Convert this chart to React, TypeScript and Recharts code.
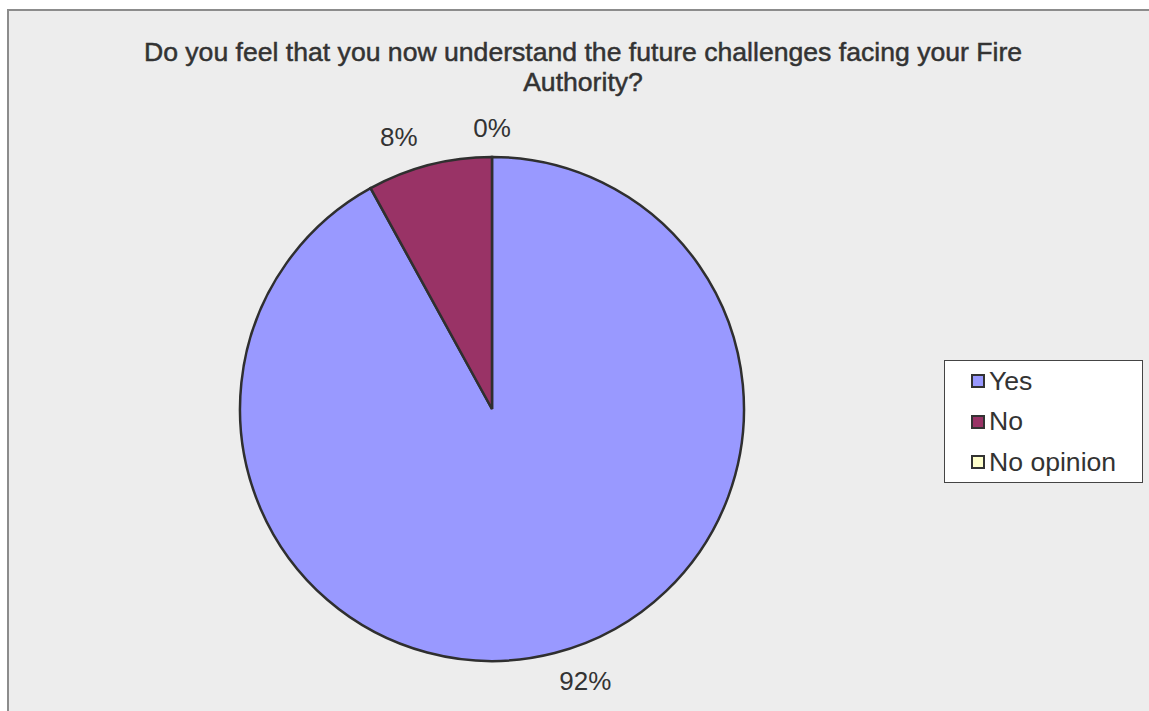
import React from 'react';
import {Cell, Legend, Pie, PieChart} from 'recharts';

const categories = ['Yes', 'No', 'No opinion'];
const shares = [92, 8, 0];
const colors = ['#9999ff', '#993366', '#ffffcc'];

const titleLines = ['Do you feel that you now understand the future challenges facing your Fire', 'Authority?'];

const data = categories.map((name, i) => ({name, value: shares[i], fill: colors[i]}));

const RAD = Math.PI / 180;
const FONT = '"Liberation Sans", Arial, sans-serif';

const renderLabel = (props: any) => {
  const {cx, cy, midAngle, outerRadius, payload} = props;
  // Excel nudges the outside labels a little counterclockwise
  const angle = payload.value > 0 ? midAngle + 4.5 : midAngle;
  const r = outerRadius + (payload.value > 0 ? 36 : 29);
  const x = cx + r * Math.cos(-angle * RAD);
  const y = cy + r * Math.sin(-angle * RAD);
  return (
    <text x={x} y={y} fill="#333" fontFamily={FONT} fontSize={26}
          textAnchor="middle" dominantBaseline="central">
      {`${payload.value}%`}
    </text>
  );
};

const LegendBox = (props: any) => {
  const items = [...(props.payload || [])].sort(
    (a: any, b: any) => categories.indexOf(a.value) - categories.indexOf(b.value));
  return (
    <div style={{
      width: 197, height: 121, background: '#fff', border: '1px solid #444',
      fontFamily: FONT, fontSize: 26.6, color: '#333', boxSizing: 'content-box',
    }}>
      {items.map((entry: any, i: number) => (
        <div key={i} style={{display: 'flex', alignItems: 'center', height: 40.5, paddingLeft: 26}}>
          <span style={{
            display: 'inline-block', width: 10, height: 10, background: entry.color,
            border: '2px solid #333', marginRight: 4,
          }}/>
          <span>{entry.value}</span>
        </div>
      ))}
    </div>
  );
};

const App = () => {
  return (
    <div style={{position: 'absolute', left: 0, top: 0, width: 1149, height: 711, overflow: 'hidden'}}>
      <div style={{
        position: 'absolute', left: 7, top: 9, width: 1150, height: 710,
        background: '#ededed', borderLeft: '2px solid #8c8c8c', borderTop: '2px solid #8c8c8c',
      }}/>
      <div style={{
        position: 'absolute', left: 0, top: 37, width: 1166, textAlign: 'center',
        fontFamily: FONT, fontSize: 26.6, lineHeight: '30px', color: '#333',
        WebkitTextStroke: '0.5px #333',
      }}>
        {titleLines.map((line, i) => <div key={i}>{line}</div>)}
      </div>
      <PieChart width={1149} height={711} margin={{top: 0, right: 0, bottom: 0, left: 0}}
                style={{position: 'absolute', left: 0, top: 0}}>
        <Pie
          data={data}
          dataKey="value"
          nameKey="name"
          cx={492}
          cy={409}
          outerRadius={252}
          startAngle={90}
          endAngle={-270}
          stroke="#2f2f2f"
          strokeWidth={2.5}
          label={renderLabel}
          labelLine={false}
          isAnimationActive={false}
        >
          {data.map((d, i) => <Cell key={i} fill={d.fill}/>)}
        </Pie>
        <Legend
          layout="vertical"
          content={<LegendBox/>}
          wrapperStyle={{left: 944, top: 360, width: 199, height: 123, right: 'auto', bottom: 'auto'}}
        />
      </PieChart>
    </div>
  );
};

export default App;
